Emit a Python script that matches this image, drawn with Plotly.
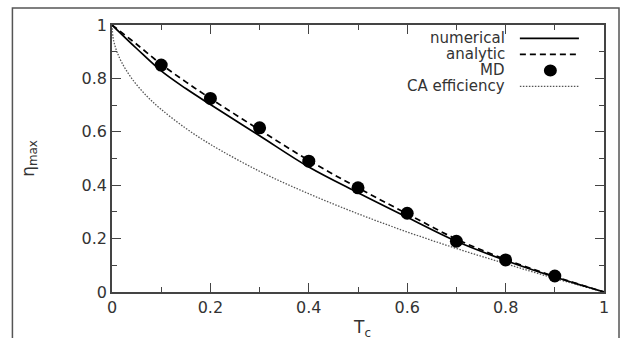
import plotly.graph_objects as go

# Cold-reservoir temperature grid for the curves
tc_curve = [0.0, 0.05, 0.1, 0.15, 0.2, 0.3, 0.4, 0.5, 0.6, 0.7, 0.8, 0.9, 1.0]
eta_numerical = [1.0, 0.912, 0.828, 0.762, 0.702, 0.585, 0.468, 0.372, 0.28, 0.19, 0.118, 0.056, 0.0]
eta_analytic = [1.0, 0.928, 0.853, 0.787, 0.725, 0.607, 0.493, 0.39, 0.293, 0.198, 0.122, 0.058, 0.0]

# Curzon-Ahlborn efficiency curve
tc_ca = [0.0, 0.002, 0.005, 0.01, 0.02, 0.04, 0.07, 0.1, 0.15, 0.2, 0.3, 0.4,
         0.5, 0.6, 0.7, 0.8, 0.9, 1.0]
eta_ca = [1.0, 0.955, 0.929, 0.9, 0.859, 0.8, 0.735, 0.684, 0.613, 0.553, 0.452,
          0.368, 0.293, 0.225, 0.163, 0.106, 0.051, 0.0]

# Molecular dynamics results
tc_md = [0.1, 0.2, 0.3, 0.4, 0.5, 0.6, 0.7, 0.8, 0.9]
eta_md = [0.85, 0.725, 0.615, 0.49, 0.39, 0.295, 0.19, 0.12, 0.06]

x_ticks = [0, 0.2, 0.4, 0.6, 0.8, 1]
x_tick_text = ["0", "0.2", "0.4", "0.6", "0.8", "1"]
y_ticks = [0, 0.2, 0.4, 0.6, 0.8, 1]
y_tick_text = ["0", "0.2", "0.4", "0.6", "0.8", "1"]

legend_labels = ["numerical", "analytic", "MD", "CA efficiency"]

FONT = "DejaVu Sans"
TXT = "#333333"
AX = "#444444"

fig = go.Figure()
fig.add_trace(go.Scatter(x=tc_ca, y=eta_ca, mode="lines", line_shape="spline",
                         line=dict(color="#555555", width=1.3, dash="1.5px,1.5px"),
                         showlegend=False))
fig.add_trace(go.Scatter(x=tc_curve, y=eta_numerical, mode="lines", line_shape="spline",
                         line=dict(color="black", width=1.7), showlegend=False))
fig.add_trace(go.Scatter(x=tc_curve, y=eta_analytic, mode="lines", line_shape="spline",
                         line=dict(color="black", width=1.7, dash="6px,4px"),
                         showlegend=False))
fig.add_trace(go.Scatter(x=tc_md, y=eta_md, mode="markers",
                         marker=dict(color="black", size=13, symbol="circle"),
                         showlegend=False))

axis_common = dict(
    showline=True, linecolor=AX, linewidth=1.5, mirror="ticks",
    ticks="inside", ticklen=9, tickwidth=1.2, tickcolor=AX,
    showgrid=False, zeroline=False,
    tickfont=dict(family=FONT, size=16, color=TXT),
    minor=dict(ticks="inside", ticklen=5, tickwidth=1.2, tickcolor=AX, dtick=0.1),
)
fig.update_xaxes(range=[0, 1], tickvals=x_ticks, ticktext=x_tick_text, **axis_common)
fig.update_yaxes(range=[0, 1], tickvals=y_ticks, ticktext=y_tick_text, **axis_common)

# Key: text right-aligned with the line sample to its right
rows_y = [0.950, 0.890, 0.830, 0.770]
for label, ry in zip(legend_labels, rows_y):
    fig.add_annotation(x=0.802, y=ry, xref="paper", yref="paper", text=label,
                       showarrow=False, xanchor="right", yanchor="middle",
                       font=dict(family=FONT, size=15, color=TXT))
fig.add_shape(type="line", xref="paper", yref="paper", x0=0.829, x1=0.949,
              y0=rows_y[0], y1=rows_y[0], line=dict(color="black", width=1.7))
fig.add_shape(type="line", xref="paper", yref="paper", x0=0.829, x1=0.949,
              y0=rows_y[1], y1=rows_y[1], line=dict(color="black", width=1.7, dash="6px,4px"))
fig.add_shape(type="circle", xref="paper", yref="paper",
              x0=0.891 - 0.0132, x1=0.891 + 0.0132,
              y0=rows_y[2] - 0.0225, y1=rows_y[2] + 0.0225,
              fillcolor="black", line=dict(color="black", width=0))
fig.add_shape(type="line", xref="paper", yref="paper", x0=0.829, x1=0.949,
              y0=rows_y[3], y1=rows_y[3],
              line=dict(color="#555555", width=1.3, dash="1.5px,1.5px"))

# Outer frame around the figure
fig.add_shape(type="rect", xref="paper", yref="paper", x0=-0.2024, x1=1.0305,
              y0=-0.25, y1=1.0637, line=dict(color="#555555", width=1.5), layer="below")

# Axis titles
fig.add_annotation(x=-0.168, y=0.50, xref="paper", yref="paper",
                   text="η<sub>max</sub>", textangle=-90, showarrow=False,
                   xanchor="center", yanchor="middle",
                   font=dict(family=FONT, size=17, color=TXT))
fig.add_annotation(x=0.508, y=-0.085, xref="paper", yref="paper",
                   text="T<sub>c</sub>", showarrow=False,
                   xanchor="center", yanchor="top",
                   font=dict(family=FONT, size=17, color=TXT))

fig.update_layout(
    width=622, height=338,
    margin=dict(l=112, r=18, t=25, b=46),
    paper_bgcolor="white", plot_bgcolor="white",
)

fig.write_html("out.html")
